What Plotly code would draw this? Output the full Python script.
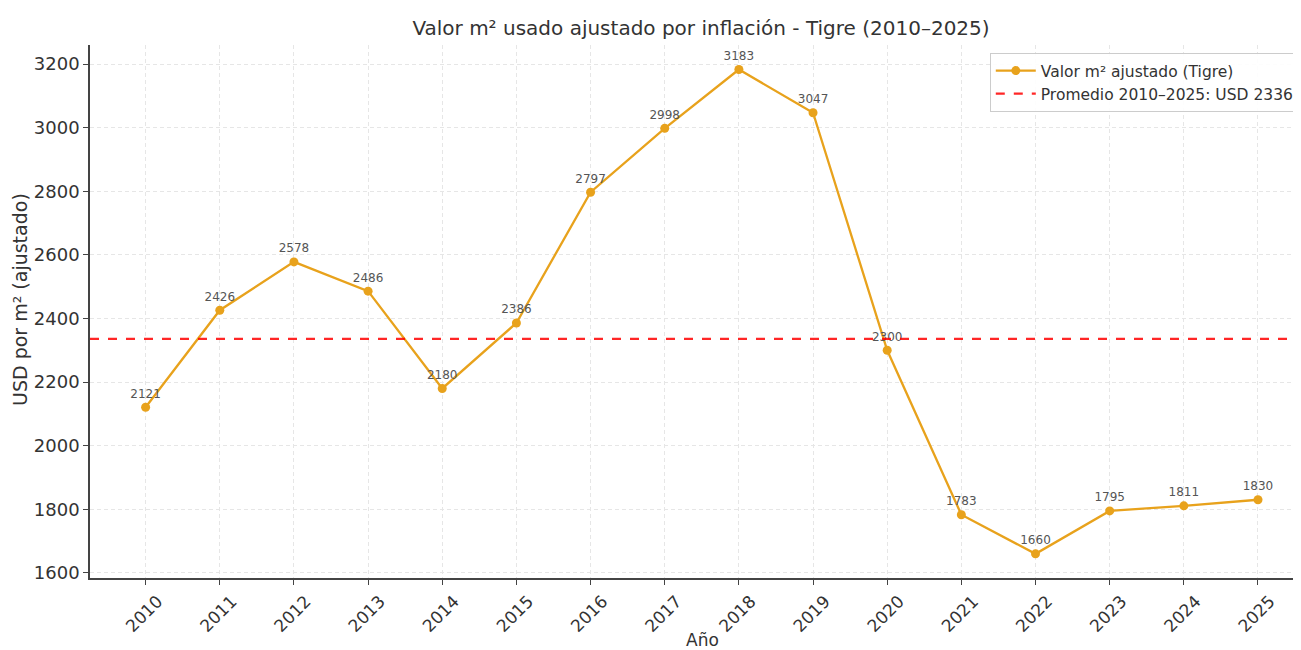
import plotly.graph_objects as go

# data
years = [2010, 2011, 2012, 2013, 2014, 2015, 2016, 2017,
         2018, 2019, 2020, 2021, 2022, 2023, 2024, 2025]
valor = [2121, 2426, 2578, 2486, 2180, 2386, 2797, 2998,
         3183, 3047, 2300, 1783, 1660, 1795, 1811, 1830]
promedio = 2336

font_main = "DejaVu Sans, Verdana, sans-serif"
orange = "#E8A21C"

fig = go.Figure()

fig.add_trace(go.Scatter(
    x=years, y=valor,
    mode="lines+markers+text",
    name="Valor m² ajustado (Tigre)",
    line=dict(color=orange, width=2.3),
    marker=dict(color=orange, size=9),
    text=[str(v) for v in valor],
    textposition="top center",
    textfont=dict(size=12, color="#555555", family=font_main),
))

fig.add_trace(go.Scatter(
    x=[2009.25, 2025.75], y=[promedio, promedio],
    mode="lines",
    name="Promedio 2010–2025: USD %d" % promedio,
    line=dict(color="rgba(255,0,0,0.85)", width=2.2, dash="dash"),
))

# page body has an 8px margin, so the figure is sized to end at the window edge
fig.update_layout(
    width=1293, height=642,
    paper_bgcolor="white", plot_bgcolor="white",
    font=dict(family=font_main, color="#333333"),
    margin=dict(l=82, r=0, t=37, b=72),
    title=dict(text="Valor m² usado ajustado por inflación - Tigre (2010–2025)",
               x=(701 - 8) / 1293, xanchor="center", y=1 - 20 / 642, yanchor="middle",
               font=dict(size=20, color="#333333")),
    showlegend=True,
    legend=dict(x=0.999, y=0.985, xanchor="right", yanchor="top",
                bgcolor="rgba(255,255,255,0.9)", bordercolor="#cccccc",
                borderwidth=1, font=dict(size=15.5, color="#333333"),
                tracegroupgap=2, itemwidth=40),
    xaxis=dict(
        range=[2009.25, 2025.58],
        tickmode="array", tickvals=years, ticktext=[str(y) for y in years],
        tickangle=-45, tickfont=dict(size=17, color="#333333"),
        ticklabelshift=12,
        showgrid=True, gridcolor="#e6e6e6", griddash="4px,3px", gridwidth=1,
        showline=True, linecolor="#444444", linewidth=1.5,
        ticks="outside", ticklen=5, tickcolor="#444444",
        zeroline=False,
    ),
    yaxis=dict(
        range=[1584, 3260],
        tickvals=[1600, 1800, 2000, 2200, 2400, 2600, 2800, 3000, 3200],
        tickfont=dict(size=18, color="#333333"),
        showgrid=True, gridcolor="#e6e6e6", griddash="4px,3px", gridwidth=1,
        showline=True, linecolor="#444444", linewidth=1.5,
        ticks="outside", ticklen=5, tickcolor="#444444",
        zeroline=False,
    ),
    annotations=[
        dict(text="Año", xref="paper", yref="paper",
             x=(702 - 90) / 1211, y=-(640 - 578) / 533, xanchor="center",
             yanchor="middle", showarrow=False,
             font=dict(size=17, color="#333333")),
        dict(text="USD por m² (ajustado)", xref="paper", yref="paper",
             x=-(90 - 20) / 1211, y=(578 - 300) / 533, xanchor="center",
             yanchor="middle", showarrow=False, textangle=-90,
             font=dict(size=19, color="#333333")),
    ],
)

fig.write_html("out.html")
